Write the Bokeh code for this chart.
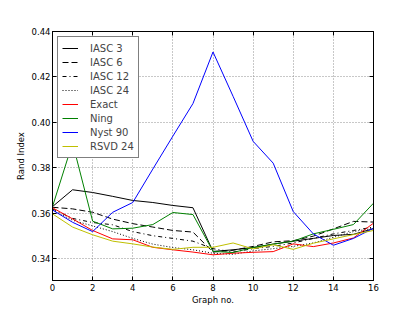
from bokeh.plotting import figure
from bokeh.models import Range1d, LinearAxis, FixedTicker, Legend, LegendItem
from bokeh.embed import file_html
from bokeh.resources import INLINE

graph_no = list(range(17))

iasc3 = [0.363, 0.3704, 0.3692, 0.3675, 0.3657, 0.3648, 0.3635, 0.3625, 0.3433,
         0.3440, 0.3450, 0.3465, 0.3478, 0.3490, 0.3503, 0.3508, 0.3533]
iasc6 = [0.3627, 0.3620, 0.3605, 0.3575, 0.3555, 0.3540, 0.3525, 0.3518, 0.3430,
         0.3438, 0.3455, 0.3475, 0.3480, 0.3500, 0.3532, 0.3565, 0.3562]
iasc12 = [0.3620, 0.3578, 0.3560, 0.3550, 0.3520, 0.3502, 0.3490, 0.3478, 0.3445,
          0.3430, 0.3445, 0.3455, 0.3470, 0.3490, 0.3510, 0.3525, 0.3540]
iasc24 = [0.3615, 0.3570, 0.3545, 0.3520, 0.3490, 0.3465, 0.3450, 0.3440, 0.3425,
          0.3420, 0.3435, 0.3445, 0.3455, 0.3470, 0.3495, 0.3520, 0.3535]
exact = [0.3625, 0.3576, 0.3525, 0.3488, 0.3484, 0.3451, 0.3440, 0.3430, 0.3418,
         0.3425, 0.3429, 0.3432, 0.3466, 0.3454, 0.3470, 0.3492, 0.3557]
ning = [0.3630, 0.3910, 0.3566, 0.3532, 0.3535, 0.3551, 0.3604, 0.3595, 0.3433,
        0.3428, 0.3450, 0.3465, 0.3478, 0.3510, 0.3530, 0.3551, 0.3645]
nyst90 = [0.3615, 0.3561, 0.3520, 0.3605, 0.3648, 0.3795, 0.3940, 0.4083, 0.4310,
          0.4115, 0.3917, 0.3821, 0.3608, 0.3510, 0.3460, 0.3490, 0.3535]
rsvd24 = [0.3598, 0.3540, 0.3506, 0.3478, 0.3466, 0.3452, 0.3442, 0.3451, 0.3451,
          0.3470, 0.3444, 0.3462, 0.3442, 0.3469, 0.3488, 0.3507, 0.3525]

series_names = ["IASC 3", "IASC 6", "IASC 12", "IASC 24", "Exact", "Ning", "Nyst 90", "RSVD 24"]
series_values = [iasc3, iasc6, iasc12, iasc24, exact, ning, nyst90, rsvd24]
series_colors = ["#000000", "#000000", "#000000", "#000000", "#ff0000", "#008000", "#0000ff", "#bfbf00"]
series_dashes = ["solid", "6 3", "4 3 1 3", "1 2", "solid", "solid", "solid", "solid"]

x_ticks = [0, 2, 4, 6, 8, 10, 12, 14, 16]
y_ticks = [0.34, 0.36, 0.38, 0.40, 0.42, 0.44]
y_tick_labels = {0.34: "0.34", 0.36: "0.36", 0.38: "0.38", 0.40: "0.40", 0.42: "0.42", 0.44: "0.44"}

FONT = "DejaVu Sans"

p = figure(output_backend="svg", toolbar_location=None,
           frame_width=321, frame_height=249,
           min_border_left=52, min_border_top=31, min_border_right=30, min_border_bottom=24,
           x_range=Range1d(0, 16), y_range=Range1d(0.3305, 0.44),
           x_axis_label="Graph no.", y_axis_label="Rand Index")
p.background_fill_color = "white"
p.border_fill_color = "white"
p.outline_line_color = "black"
p.outline_line_width = 1

items = []
for name, vals, col, dash in zip(series_names, series_values, series_colors, series_dashes):
    r = p.line(graph_no, vals, line_color=col, line_width=1, line_dash=dash)
    items.append(LegendItem(label=name, renderers=[r]))

def style_axis(ax, show_labels=True):
    ax.major_tick_in = 4
    ax.major_tick_out = 0
    ax.minor_tick_in = 0
    ax.minor_tick_out = 0
    ax.axis_line_color = "black"
    ax.major_tick_line_color = "black"
    ax.major_label_text_font = FONT
    ax.major_label_text_font_size = "8.5px"
    ax.major_label_text_color = "black" if show_labels else None
    ax.axis_label_text_font = FONT
    ax.axis_label_text_font_size = "8.5px"
    ax.axis_label_text_font_style = "normal"
    ax.axis_label_text_color = "black"

xa = p.xaxis[0]
ya = p.yaxis[0]
xa.ticker = FixedTicker(ticks=x_ticks)
ya.ticker = FixedTicker(ticks=y_ticks)
ya.major_label_overrides = y_tick_labels
style_axis(xa)
style_axis(ya)
xa.major_label_standoff = 3
xa.axis_label_standoff = 1
ya.major_label_standoff = 2
ya.axis_label_standoff = 3

top_ax = LinearAxis(ticker=FixedTicker(ticks=x_ticks))
right_ax = LinearAxis(ticker=FixedTicker(ticks=y_ticks))
style_axis(top_ax, False)
style_axis(right_ax, False)
p.add_layout(top_ax, "above")
p.add_layout(right_ax, "right")

for g in (p.xgrid[0], p.ygrid[0]):
    g.grid_line_color = "#909090"
    g.grid_line_dash = "1 2"
    g.grid_line_width = 1
p.xgrid[0].ticker = FixedTicker(ticks=x_ticks)
p.ygrid[0].ticker = FixedTicker(ticks=y_ticks)

legend = Legend(items=items, location="top_left")
legend.margin = 5
legend.padding = 4
legend.spacing = 0
legend.label_height = 14
legend.glyph_height = 14
legend.glyph_width = 16
legend.label_standoff = 12
legend.label_text_font = FONT
legend.label_text_font_size = "10px"
legend.border_line_color = "black"
legend.border_line_width = 1
legend.background_fill_color = "white"
legend.background_fill_alpha = 1
p.add_layout(legend, "center")

open("out.html", "w").write(file_html(p, INLINE))
